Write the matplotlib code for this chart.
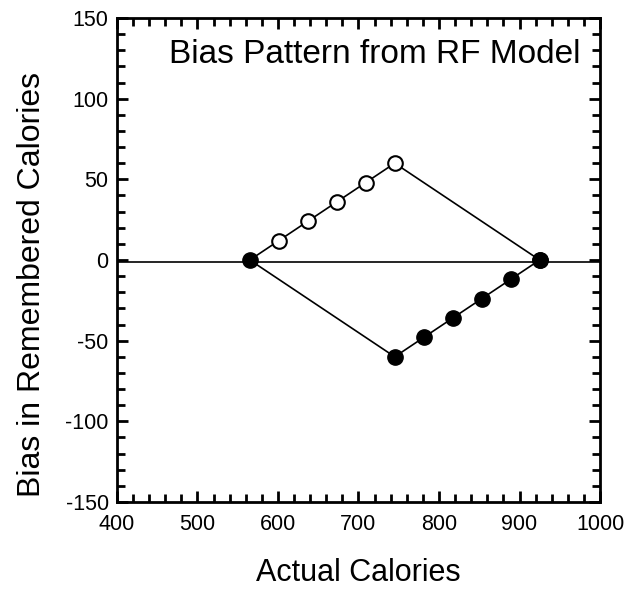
import matplotlib.pyplot as plt
from matplotlib.ticker import MultipleLocator

# data
open_x = [565, 601, 637, 673, 709, 745]
open_y = [0, 12, 24, 36, 48, 60]
filled_x = [745, 781, 817, 853, 889, 925]
filled_y = [-60, -48, -36, -24, -12, 0]
end_x = [565, 925]
end_y = [0, 0]
ref_x = [400, 1000]
ref_y = [-1, -1]

plt.rcParams['font.family'] = ['Liberation Sans', 'DejaVu Sans']
plt.rcParams['axes.unicode_minus'] = False

fig = plt.figure(figsize=(6.35, 5.89), dpi=100)
ax = fig.add_axes([117 / 635, 87 / 589, 483 / 635, 484 / 589])

# reference line
ax.plot(ref_x, ref_y, color='black', lw=1.2, zorder=1)

# upper path: rising open circles, then back down to the right end
ax.plot(open_x + [end_x[1]], open_y + [end_y[1]], color='black', lw=1.2, zorder=2)
# lower path: down from the left end, then rising filled circles
ax.plot([end_x[0]] + filled_x, [end_y[0]] + filled_y, color='black', lw=1.2, zorder=2)

ax.plot(open_x[1:], open_y[1:], 'o', ms=10.5, mfc='white', mec='black', mew=1.5, zorder=3)
ax.plot(filled_x, filled_y, 'o', ms=11, mfc='black', mec='black', zorder=3)
ax.plot(end_x, end_y, 'o', ms=11, mfc='black', mec='black', zorder=3)

ax.set_xlim(400, 1000)
ax.set_ylim(-150, 150)
ax.xaxis.set_major_locator(MultipleLocator(100))
ax.xaxis.set_minor_locator(MultipleLocator(20))
ax.yaxis.set_major_locator(MultipleLocator(50))
ax.yaxis.set_minor_locator(MultipleLocator(10))

ax.tick_params(which='both', direction='in', top=True, right=True, width=2, labelsize=15.5)
ax.tick_params(which='major', length=8)
ax.tick_params(which='minor', length=5.5)
ax.tick_params(axis='x', pad=9)
ax.tick_params(axis='y', pad=6)
for s in ax.spines.values():
    s.set_linewidth(2)

ax.text(0.534, 0.925, 'Bias Pattern from RF Model', transform=ax.transAxes,
        ha='center', va='center', fontsize=24)
ax.set_xlabel('Actual Calories', fontsize=22)
ax.set_ylabel('Bias in Remembered Calories', fontsize=23)
ax.xaxis.set_label_coords(0.5, -0.115)
ax.yaxis.set_label_coords(-0.145, 0.45)

fig.savefig('out.png', dpi=100)
